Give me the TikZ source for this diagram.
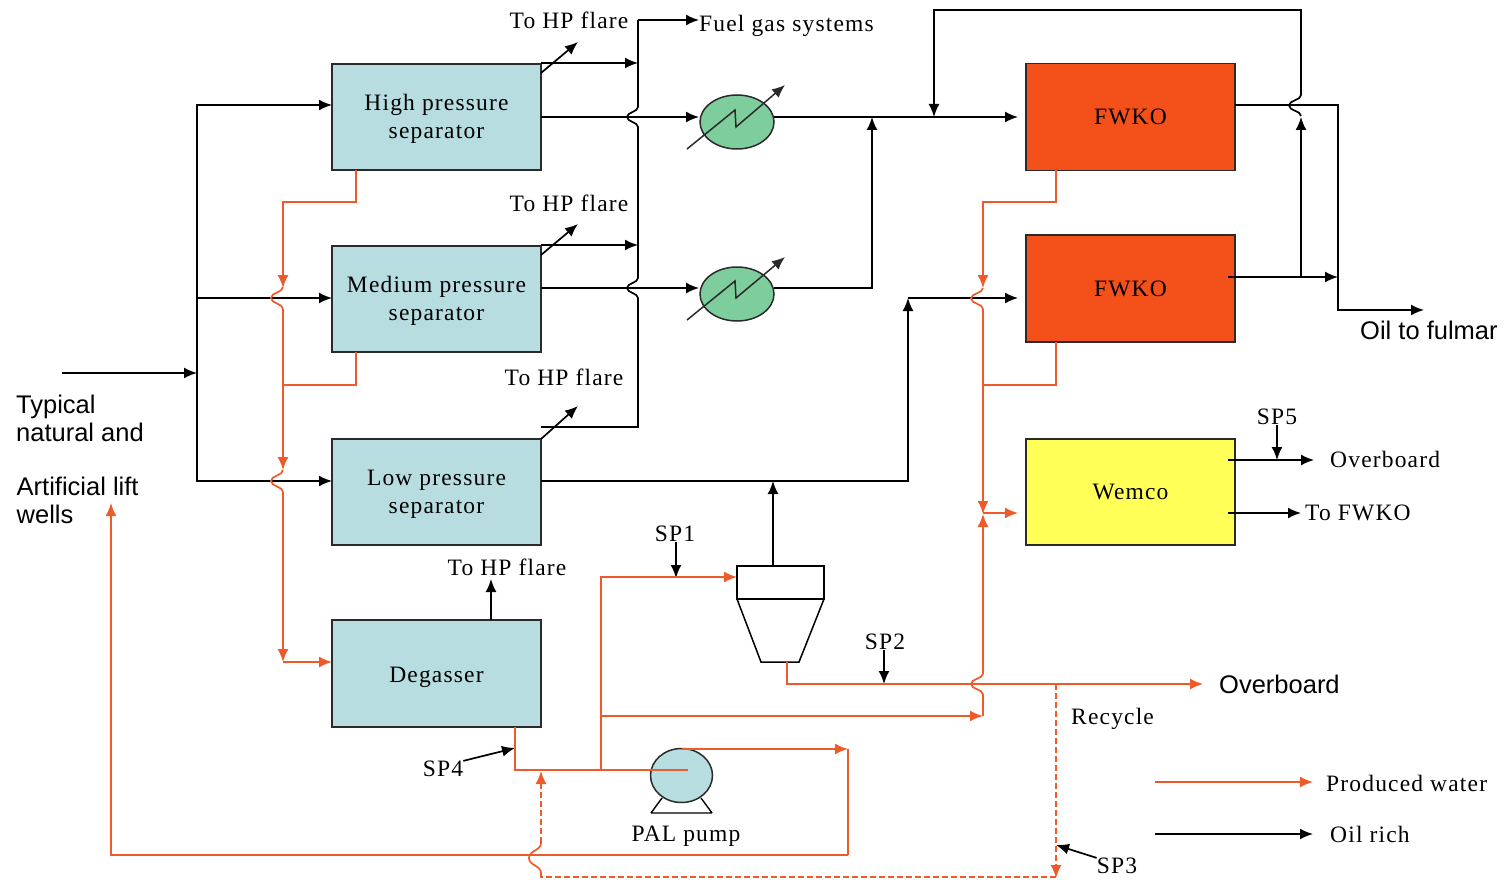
\documentclass[tikz,border=0pt]{standalone}
\usepackage{fontspec}
\setmainfont{Liberation Serif}
\newfontfamily\serf[LetterSpace=5]{Liberation Serif}
\newfontfamily\sanf{Liberation Sans}
\usetikzlibrary{arrows.meta,calc,shapes.geometric}
\definecolor{oline}{HTML}{EE5A2A}
\definecolor{sepblue}{HTML}{B7DDE0}
\definecolor{fwko}{HTML}{F4501A}
\definecolor{wem}{HTML}{FFFF58}
\definecolor{heat}{HTML}{7DCE9C}
\definecolor{edge}{HTML}{2A2A2A}
\tikzset{
  tip/.style={-{Latex[length=13pt,width=11pt]}},
  oil/.style={draw=black,line width=1.7pt},
  water/.style={draw=oline,line width=1.7pt},
  oilarrow/.style={oil,tip},
  waterarrow/.style={water,tip},
  unitbox/.style={draw=edge,line width=1.6pt,minimum width=209pt,outer sep=0pt,inner sep=0pt,align=center,font=\serf\fontsize{23.5}{27.5}\selectfont},
  sep/.style={unitbox,fill=sepblue,minimum height=106pt},
  fw/.style={unitbox,fill=fwko,minimum height=107pt},
  serlab/.style={inner sep=0pt,align=center,font=\serf\fontsize{23.5}{27.5}\selectfont},
  sanlab/.style={inner sep=0pt,align=left,font=\sanf\fontsize{25.5}{27.5}\selectfont},
  exch/.style={draw=edge,line width=1.5pt,fill=heat,ellipse,inner sep=0pt,outer sep=0pt,minimum width=74pt,minimum height=54pt},
  dashwater/.style={water,dash pattern=on 6pt off 3pt},
}
% vertical line jump, running upwards: x, centre y, half height, bulge x
\newcommand{\vju}[4]{(#1,#2+#3) .. controls (#1,#2+#3*0.5) and (#4,#2+#3*0.5) .. (#4,#2) .. controls (#4,#2-#3*0.5) and (#1,#2-#3*0.5) .. (#1,#2-#3)}
\newcommand{\tl}{\rule{0pt}{20pt}}
\begin{document}
\begin{tikzpicture}[x=1pt,y=-1pt]
\useasboundingbox (0,0) rectangle (1505,880);
% units
\node[sep] (hp) at (436.5,117) {\tl High pressure\\separator};
\node[sep] (mp) at (436.5,299) {\tl Medium pressure\\separator};
\node[sep] (lp) at (436.5,492) {\tl Low pressure\\separator};
\node[sep,minimum height=107pt] (deg) at (436.5,673.5) {\rule{0pt}{24pt}Degasser};
\node[fw] (f1) at (1130.5,117) {FWKO};
\node[fw] (f2) at (1130.5,288.5) {FWKO};
\node[unitbox,fill=wem,minimum height=106pt] (wemco) at (1130.5,492) {Wemco};
\node[exch] (h1) at (737,122) {};
\node[exch] (h2) at (737,294) {};
\node[exch,fill=sepblue,minimum width=62pt] (pump) at (681.5,775.5) {};
\node[draw=black,line width=1.5pt,minimum width=87pt,minimum height=33pt,inner sep=0pt,outer sep=0pt] (cyc) at (780.5,582.5) {};
\coordinate (cycbl) at (761,662);
\coordinate (cycbr) at (799,662);
\draw[black,line width=1.5pt] (cyc.south west) -- (cycbl) -- (cycbr) -- (cyc.south east);
\draw[black,line width=1.4pt] (651,813) -- (712,813) (651,813) -- (662,798) (712,813) -- (701,798);
% heater symbols
\draw[edge,line width=1.5pt,tip] (687,149) -- (735,110) -- (736,127) -- (785,85);
\draw[edge,line width=1.5pt,tip] (687,320) -- (735,281) -- (736,298) -- (785,257);
% labels
\node[serlab] (t1) at (569,20) {To HP flare};
\node[serlab] (t2) at (569,203) {To HP flare};
\node[serlab] (t3) at (564,377) {To HP flare};
\node[serlab] (t4) at (507,567) {To HP flare};
\node[serlab,anchor=west] (fuel) at (699,26) {Fuel gas systems};
\node[sanlab,anchor=west] (oilf) at (1360,330) {Oil to fulmar};
\node[serlab] (sp5) at (1277,417) {SP5};
\node[serlab,anchor=west] (ob1) at (1330,459) {Overboard};
\node[serlab,anchor=west] (tf) at (1305,513) {To FWKO};
\node[serlab] (sp1) at (675,534) {SP1};
\node[serlab] (sp2) at (885,642) {SP2};
\node[serlab] (sp4) at (443,769) {SP4};
\node[serlab] (sp3) at (1117,866) {SP3};
\node[sanlab,anchor=west] (ob2) at (1219,684) {Overboard};
\node[serlab,anchor=west] (rec) at (1071,719) {Recycle};
\node[serlab,anchor=west] (pw) at (1326,783) {Produced water};
\node[serlab,anchor=west] (or) at (1330,834) {Oil rich};
\node[serlab] (pal) at (686,836) {PAL pump};
\node[sanlab,anchor=north west] (typ) at (16,395) {Typical\\natural and};
\node[sanlab,anchor=north west] (art) at (16.5,477) {Artificial lift\\wells};
% feed
\coordinate (feed) at (62,373);
\coordinate (sp) at (197,373);
\draw[oilarrow] (feed) -- (sp);
\draw[oilarrow] (sp) -- (197,105) -- (hp.west |- 0,105);
\draw[oilarrow] (197,298) -- (mp.west |- 0,298);
\draw[oilarrow] (sp) -- (197,481) -- (lp.west |- 0,481);
% flares
\draw[oilarrow] (hp.east |- 0,73) -- (578,42);
\draw[oilarrow] (mp.east |- 0,255) -- (578,224);
\draw[oilarrow] (lp.north east) -- (578,406);
\draw[oilarrow] (hp.east |- 0,63) -- (638,63);
\draw[oilarrow] (mp.east |- 0,245) -- (638,245);
\draw[oil] (lp.east |- 0,427) -- (638,427) -- \vju{638}{288}{10}{627} -- \vju{638}{117}{10}{627} -- (638,20);
\draw[oilarrow] (638,20) -- (699,20);
\draw[oilarrow] (deg.north -| 491,0) -- (491,579);
% heaters
\draw[oilarrow] (hp.east) -- (699,117);
\draw[oilarrow] (mp.east |- 0,288) -- (699,288);
\draw[oilarrow] (h1.east |- 0,117) -- (1018,117);
\draw[oilarrow] (h2.east |- 0,288) -- (872,288) -- (872,117);
% LP to FWKO2
\draw[oilarrow] (lp.east |- 0,481) -- (908,481) -- (908,298);
\draw[oilarrow] (908,298) -- (1018,298);
\draw[oilarrow] (cyc.north -| 773,0) -- (773,481);
% FWKO out
\draw[oil,tip] (f1.east |- 0,105) -- (1338,105) -- (1338,310) -- (1424,310);
\draw[oilarrow] (1228,277) -- (1338,277);
\draw[oilarrow] (1301,277) -- (1301,117);
\draw[oilarrow] \vju{1301}{105.5}{10.5}{1289} -- (1301,10) -- (934,10) -- (934,117);
% Wemco out
\draw[oilarrow] (1228,460) -- (1314,460);
\draw[oilarrow] (1228,513) -- (1301,513);
% sample points
\draw[oilarrow] (sp1.south -| 676,0) -- (676,578);
\draw[oilarrow] (sp2.south -| 884,0) -- (884,684);
\draw[oilarrow] (sp5.south -| 1277,0) -- (1277,460);
\draw[oilarrow] (sp4.north east) -- (515,748);
\draw[oilarrow] (sp3.north west) -- (1056,845);
% produced water left
\draw[waterarrow] (hp.south -| 356,0) -- (356,202) -- (283,202) -- (283,288);
\draw[water] \vju{283}{298}{11}{271};
\draw[waterarrow] (283,309) -- (283,470);
\draw[water] (mp.south -| 356,0) -- (356,385) -- (283,385);
\draw[water] \vju{283}{481}{11}{271};
\draw[waterarrow] (283,492) -- (283,662);
\draw[waterarrow] (283,662) -- (deg.west |- 0,662);
% produced water right
\draw[waterarrow] (f1.south -| 1056,0) -- (1056,202) -- (983,202) -- (983,288);
\draw[water] \vju{983}{298.5}{10.5}{971};
\draw[waterarrow] (983,309) -- (983,514);
\draw[water] (f2.south -| 1056,0) -- (1056,385) -- (983,385);
\draw[waterarrow] (983,513) -- (1018,513);
\draw[waterarrow] (983,674) -- (983,514);
\draw[water] (983,716) -- \vju{983}{684}{10.5}{971};
% degasser outlet and cyclone
\draw[water] (deg.south -| 515,0) -- (515,770) -- (688,770);
\draw[waterarrow] (601,770) -- (601,577) -- (cyc.west |- 0,577);
\draw[waterarrow] (601,716) -- (983,716);
\draw[waterarrow] (cycbl -| 787,0) -- (787,684) -- (1203,684);
% pump outlet, lift
\draw[waterarrow] (pump.center |- 0,749) -- (848,749);
\draw[water] (848,749) -- (848,855);
\draw[waterarrow] (848,855) -- (111,855) -- (111,503);
% recycle
\draw[dashwater,tip] (1056,684) -- (1056,878);
\draw[dashwater] (1056,877) -- (541,877) -- (541,873);
\draw[water] \vju{541}{858}{15}{529};
\draw[dashwater,tip] (541,843) -- (541,771);
% legend
\coordinate (lg1) at (1155,782);
\coordinate (lg2) at (1155,834);
\draw[waterarrow] (lg1) -- (1313,782);
\draw[oilarrow] (lg2) -- (1313,834);
\end{tikzpicture}
\end{document}
